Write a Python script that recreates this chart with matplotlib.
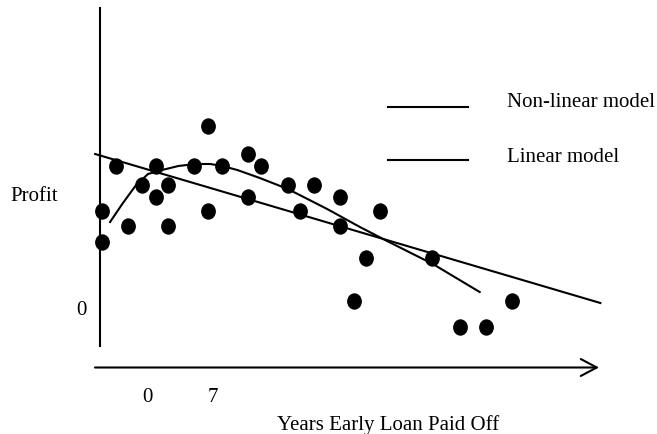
import numpy as np
import matplotlib
matplotlib.use("Agg")
import matplotlib.pyplot as plt
from matplotlib.path import Path
from matplotlib.lines import Line2D

plt.rcParams['font.family'] = ['Liberation Serif', 'DejaVu Serif']

#Observed loans (years early, profit)
years = [-4.9, -4.9, -3.4, -2.1, -0.6, 0.9, 0.9, 2.2, 2.2, 5.0, 6.5, 6.5, 8.0, 10.7,
         10.7, 12.1, 15.0, 16.3, 17.8, 20.6, 20.6, 22.1, 23.4, 24.8, 30.4, 33.4, 36.2, 39.0]
profit = [9.55, 6.45, 14.05, 8.05, 12.15, 14.05, 10.95, 12.15, 8.05, 14.05, 18.05, 9.55, 14.05, 15.25,
          10.95, 14.05, 12.15, 9.55, 12.15, 10.95, 8.05, 0.55, 4.85, 9.55, 4.85, -2.05, -2.05, 0.55]

#Non-linear model curve
nl_years = [-4.0, -2.7, -1.3, 0.05, 1.55, 3.3, 5.1, 6.7, 8.0, 9.6, 12.0, 15.0, 19.2, 22.7, 25.6, 30.5, 35.5]
nl_profit = [8.45, 10.25, 12.05, 13.25, 13.65, 14.05, 14.25, 14.25, 14.05, 13.65, 12.85, 11.75, 9.75,
             7.95, 6.55, 4.25, 1.45]

#Linear model
lin_years = [-5.6, 48.4]
lin_profit = [15.25, 0.35]

legend_labels = ['Non-linear model', 'Linear model']
x_ticks = ['0', '7']

W, H = 657, 435
fig = plt.figure(figsize=(W / 100, H / 100), dpi=100)
ax = fig.add_axes([0, 0, 1, 1])
ax.set_xlim((0 - 147.5) / 9.357, (W - 147.5) / 9.357)
ax.set_ylim((307.5 - H) / 10, 307.5 / 10)
ax.axis('off')

def fx(px):
    return px / W

def fy(py):
    return 1 - py / H

# slightly tall dots
circ = Path.unit_circle()
dot = Path(circ.vertices * np.array([0.89, 1.0]), circ.codes)

ax.plot(years, profit, linestyle='none', marker=dot, markersize=10.8, color='black')
ax.plot(nl_years, nl_profit, color='black', lw=1.5)
ax.plot(lin_years, lin_profit, color='black', lw=1.5)

# axes drawn by hand
fig.add_artist(Line2D([fx(100), fx(100)], [fy(9), fy(347)], color='black', lw=1.5))
ax.annotate('', xy=(fx(599), fy(368.5)), xytext=(fx(95), fy(368.5)),
            xycoords='figure fraction', textcoords='figure fraction',
            arrowprops=dict(arrowstyle='->,head_length=1.15,head_width=0.61',
                            mutation_scale=10, lw=1.5, color='black',
                            shrinkA=0, shrinkB=0))

fs = 15
fig.text(fx(10), fy(201), 'Profit', fontsize=fs, va='baseline', ha='left')
fig.text(fx(81.5), fy(315), '0', fontsize=fs, va='baseline', ha='center')
fig.text(fx(147.5), fy(402), x_ticks[0], fontsize=fs, va='baseline', ha='center')
fig.text(fx(213), fy(402), x_ticks[1], fontsize=fs, va='baseline', ha='center')
fig.text(fx(277), fy(430), 'Years Early Loan Paid Off', fontsize=fs, va='baseline', ha='left')

# legend
for ly, tb, lab in zip([108, 161], [106.7, 161.7], legend_labels):
    fig.add_artist(Line2D([fx(388), fx(468)], [fy(ly), fy(ly)], color='black', lw=1.5))
    fig.text(fx(507), fy(tb), lab, fontsize=fs, va='baseline', ha='left')

fig.savefig('out.png', dpi=100)
